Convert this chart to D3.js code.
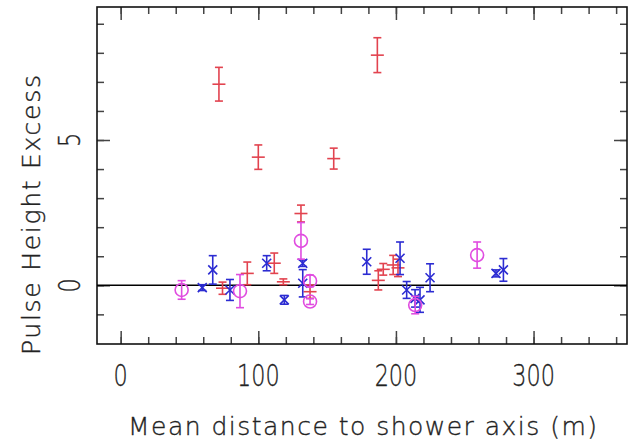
<!DOCTYPE html>
<html lang="en">
<head>
<meta charset="UTF-8">
<title>Pulse Height Excess</title>
<script src="https://d3js.org/d3.v7.min.js"></script>
<style>
  body { margin: 0; background: #fff; }
  text { font-family: "DejaVu Sans", sans-serif; font-weight: 200; fill: #222; stroke: #222; stroke-width: 0.35; }
</style>
</head>
<body>
<div id="chart"></div>
<script>
// each point: [mean distance (m), pulse height excess, error]
const redPoints = [
  [71.4, 6.92, 0.58], [100, 4.41, 0.42], [154.8, 4.36, 0.36], [186.5, 7.92, 0.60],
  [74, -0.10, 0.21], [92, 0.41, 0.39], [111.6, 0.76, 0.35], [118.2, 0.12, 0.10],
  [131, 2.47, 0.29], [137.6, -0.22, 0.23], [187.2, 0.17, 0.33], [190.8, 0.55, 0.20],
  [198, 0.70, 0.33], [201.5, 0.60, 0.30]
];
const bluePoints = [
  [59.3, -0.08, 0.10], [66.9, 0.53, 0.49], [79.4, -0.16, 0.36], [106.1, 0.76, 0.26],
  [118.9, -0.50, 0.15], [132.3, 0.76, 0.11], [132.3, 0.07, 0.47], [178.8, 0.81, 0.43],
  [203, 0.93, 0.56], [207.8, -0.16, 0.29], [213.9, -0.45, 0.30], [217.5, -0.50, 0.43],
  [224.8, 0.26, 0.48], [272.7, 0.41, 0.12], [278.1, 0.53, 0.39]
];
const magentaPoints = [
  [44.3, -0.16, 0.32], [86.7, -0.20, 0.57], [131, 1.53, 0.63], [137.6, 0.15, 0.20],
  [137.6, -0.56, 0.10], [214, -0.68, 0.30], [259, 1.04, 0.45]
];
const xLabels = [0, 100, 200, 300];
const yLabels = [0, 5];

const W = 629, H = 443;
const margin = {top: 7, right: 2, bottom: 99, left: 97};
const width = W - margin.left - margin.right;
const height = H - margin.top - margin.bottom;

const svg = d3.select("#chart").append("svg")
  .attr("width", W).attr("height", H);
const g = svg.append("g").attr("transform", `translate(${margin.left},${margin.top})`);

const x = d3.scaleLinear().domain([-17.2, 367.9]).range([0, width]);
const y = d3.scaleLinear().domain([-2.02, 9.577]).range([height, 0]);

// ticks on all four sides, pointing inward
const xMinor = d3.range(0, 361, 20), yMinor = d3.range(-1, 10, 1);
function ticks(axisFn, vals, len, tr) {
  const a = g.append("g").attr("transform", tr)
    .call(axisFn.tickValues(vals).tickSize(-len).tickFormat(""));
  a.select(".domain").remove();
  a.selectAll("line").attr("stroke", "#444").attr("stroke-width", 1.5);
}
ticks(d3.axisBottom(x), xMinor, 7, `translate(0,${height})`);
ticks(d3.axisBottom(x), xLabels, 13, `translate(0,${height})`);
ticks(d3.axisTop(x), xMinor, 7, "");
ticks(d3.axisTop(x), xLabels, 13, "");
ticks(d3.axisLeft(y), yMinor, 7, "");
ticks(d3.axisLeft(y), yLabels, 13, "");
ticks(d3.axisRight(y), yMinor, 7, `translate(${width},0)`);
ticks(d3.axisRight(y), yLabels, 13, `translate(${width},0)`);

g.append("rect").attr("width", width).attr("height", height)
  .attr("fill", "none").attr("stroke", "#111").attr("stroke-width", 1.6);

// zero line
g.append("line").attr("x1", 0).attr("x2", width)
  .attr("y1", y(0)).attr("y2", y(0))
  .attr("stroke", "#000").attr("stroke-width", 1.5);

function errorBars(data, color, marker) {
  const s = g.append("g").attr("stroke", color).attr("stroke-width", 1.6).attr("fill", "none");
  const p = s.selectAll("g").data(data).join("g")
    .attr("transform", d => `translate(${x(d[0])},0)`);
  p.append("line").attr("y1", d => y(d[1] - d[2])).attr("y2", d => y(d[1] + d[2]));
  p.append("line").attr("x1", -4).attr("x2", 4)
    .attr("y1", d => y(d[1] - d[2])).attr("y2", d => y(d[1] - d[2]));
  p.append("line").attr("x1", -4).attr("x2", 4)
    .attr("y1", d => y(d[1] + d[2])).attr("y2", d => y(d[1] + d[2]));
  marker(p);
}

errorBars(redPoints, "#e2434f", p => {
  p.append("line").attr("x1", -6.5).attr("x2", 6.5)
    .attr("y1", d => y(d[1])).attr("y2", d => y(d[1]));
});
errorBars(bluePoints, "#2c2cd2", p => {
  p.append("path").attr("d", d => {
    const c = y(d[1]);
    return `M-4.5,${c - 4.5}L4.5,${c + 4.5}M-4.5,${c + 4.5}L4.5,${c - 4.5}`;
  });
});
errorBars(magentaPoints, "#e04ce0", p => {
  p.append("circle").attr("cy", d => y(d[1])).attr("r", 6.5);
});

// tick labels
g.selectAll(".xl").data(xLabels).join("text")
  .attr("transform", d => `translate(${x(d)},${height + 42}) scale(0.72,1)`)
  .attr("text-anchor", "middle").attr("font-size", 31).text(d => d);
g.selectAll(".yl").data(yLabels).join("text")
  .attr("transform", d => `translate(${-17},${y(d)}) rotate(-90) scale(0.72,1)`)
  .attr("text-anchor", "middle").attr("font-size", 31).text(d => d);

// axis titles
svg.append("text")
  .attr("x", 128).attr("y", 435)
  .attr("font-size", 25)
  .attr("textLength", 469).attr("lengthAdjust", "spacing")
  .text("Mean distance to shower axis (m)");
svg.append("text")
  .attr("transform", "translate(40,355) rotate(-90)")
  .attr("font-size", 25)
  .attr("textLength", 280).attr("lengthAdjust", "spacing")
  .text("Pulse Height Excess");
</script>
</body>
</html>
